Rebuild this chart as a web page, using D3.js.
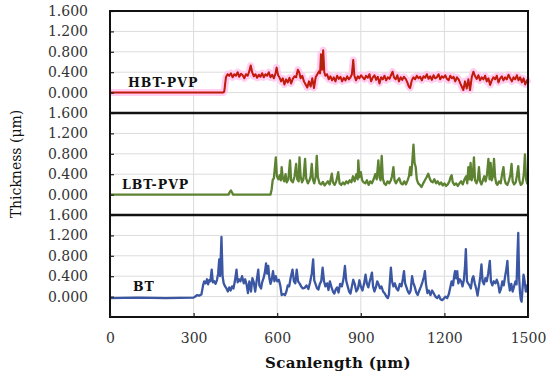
<!doctype html>
<html>
<head>
<meta charset="utf-8">
<script src="https://d3js.org/d3.v7.min.js"></script>
<style>
  body { margin: 0; background: #fff; }
  svg text { font-family: "DejaVu Serif", serif; }
</style>
</head>
<body>
<div id="chart"></div>
<script>
// ---- data ----
var yTicks = [0, 0.4, 0.8, 1.2, 1.6];
var xTicks = [0, 300, 600, 900, 1200, 1500];
var panelNames = ["HBT-PVP", "LBT-PVP", "BT"];

// HBT-PVP profile
var hbtX = [0, 405, 410, 416, 422, 428, 434, 440, 446, 452, 458, 464, 470, 476, 482, 488, 494, 500, 505, 510, 516, 522, 528, 534, 540, 546, 552, 558, 564, 570, 576, 582, 588, 594, 598, 603, 608, 614, 620, 626, 632, 638, 644, 650, 656, 662, 668, 674, 679, 684, 690, 696, 702, 708, 714, 720, 726, 732, 738, 744, 750, 754, 757, 761, 765, 769, 773, 779, 785, 791, 797, 803, 809, 815, 821, 827, 833, 839, 845, 851, 857, 863, 868, 873, 877, 883, 889, 895, 901, 907, 913, 919, 925, 931, 937, 943, 949, 955, 961, 967, 973, 979, 985, 991, 997, 1003, 1009, 1014, 1019, 1025, 1031, 1037, 1043, 1049, 1055, 1061, 1067, 1072, 1077, 1083, 1089, 1095, 1101, 1107, 1113, 1119, 1125, 1131, 1137, 1143, 1149, 1155, 1161, 1167, 1173, 1179, 1185, 1191, 1197, 1203, 1209, 1215, 1221, 1227, 1233, 1239, 1245, 1251, 1257, 1262, 1268, 1274, 1280, 1286, 1292, 1298, 1304, 1310, 1316, 1322, 1328, 1334, 1340, 1346, 1352, 1358, 1364, 1370, 1376, 1382, 1388, 1394, 1400, 1406, 1412, 1418, 1424, 1430, 1436, 1442, 1448, 1454, 1460, 1466, 1472, 1478, 1484, 1490, 1496, 1500];
var hbtY = [0, 0, 0.02, 0.3, 0.36, 0.33, 0.38, 0.30, 0.36, 0.33, 0.40, 0.31, 0.37, 0.34, 0.28, 0.36, 0.33, 0.42, 0.53, 0.40, 0.32, 0.36, 0.29, 0.35, 0.31, 0.38, 0.30, 0.36, 0.33, 0.40, 0.30, 0.35, 0.28, 0.38, 0.49, 0.34, 0.30, 0.22, 0.28, 0.16, 0.26, 0.20, 0.29, 0.18, 0.27, 0.32, 0.30, 0.45, 0.40, 0.28, 0.33, 0.22, 0.16, 0.10, 0.22, 0.12, 0.28, 0.09, 0.30, 0.36, 0.42, 0.38, 0.75, 0.45, 0.83, 0.40, 0.33, 0.36, 0.26, 0.32, 0.24, 0.30, 0.22, 0.33, 0.27, 0.31, 0.22, 0.29, 0.24, 0.32, 0.26, 0.30, 0.36, 0.64, 0.33, 0.24, 0.32, 0.28, 0.34, 0.30, 0.26, 0.33, 0.29, 0.36, 0.22, 0.30, 0.34, 0.25, 0.31, 0.18, 0.30, 0.26, 0.33, 0.24, 0.30, 0.27, 0.35, 0.41, 0.30, 0.26, 0.34, 0.22, 0.30, 0.25, 0.31, 0.27, 0.20, 0.12, 0.09, 0.24, 0.30, 0.26, 0.33, 0.28, 0.31, 0.24, 0.32, 0.29, 0.36, 0.27, 0.32, 0.25, 0.34, 0.28, 0.30, 0.36, 0.26, 0.32, 0.29, 0.34, 0.27, 0.24, 0.33, 0.28, 0.31, 0.22, 0.30, 0.26, 0.18, 0.12, 0.05, 0.22, 0.08, 0.26, 0.05, 0.30, 0.41, 0.32, 0.27, 0.34, 0.24, 0.30, 0.26, 0.33, 0.22, 0.28, 0.15, 0.24, 0.30, 0.26, 0.33, 0.20, 0.28, 0.32, 0.24, 0.30, 0.26, 0.35, 0.28, 0.22, 0.30, 0.26, 0.34, 0.24, 0.30, 0.20, 0.28, 0.16, 0.24, 0.18];

// LBT-PVP profile
var lbtX = [0, 425, 430, 434, 438, 442, 576, 580, 584, 588, 592, 595, 599, 604, 609, 613, 616, 620, 625, 630, 634, 640, 646, 650, 656, 662, 668, 672, 677, 680, 684, 689, 694, 700, 704, 710, 716, 720, 724, 728, 733, 738, 742, 746, 752, 758, 764, 770, 776, 782, 788, 796, 800, 806, 812, 819, 824, 830, 836, 842, 848, 854, 860, 866, 872, 878, 884, 889, 891, 895, 900, 905, 910, 916, 922, 928, 934, 940, 946, 952, 957, 963, 967, 971, 975, 979, 984, 990, 996, 1002, 1008, 1012, 1017, 1021, 1026, 1032, 1038, 1044, 1050, 1056, 1062, 1068, 1073, 1077, 1081, 1085, 1089, 1093, 1097, 1101, 1106, 1112, 1118, 1124, 1130, 1136, 1142, 1147, 1152, 1158, 1164, 1170, 1176, 1182, 1188, 1194, 1200, 1206, 1212, 1218, 1222, 1226, 1230, 1236, 1242, 1248, 1254, 1260, 1266, 1272, 1278, 1282, 1286, 1290, 1294, 1298, 1302, 1306, 1310, 1315, 1320, 1324, 1328, 1333, 1338, 1343, 1348, 1353, 1358, 1362, 1366, 1370, 1374, 1378, 1382, 1386, 1390, 1396, 1402, 1407, 1412, 1416, 1420, 1426, 1432, 1437, 1441, 1445, 1450, 1456, 1461, 1465, 1469, 1474, 1480, 1485, 1489, 1493, 1497, 1500];
var lbtY = [0, 0, 0.05, 0.08, 0.04, 0, 0, 0.1, 0.29, 0.32, 0.55, 0.73, 0.36, 0.30, 0.38, 0.28, 0.54, 0.33, 0.26, 0.40, 0.24, 0.30, 0.67, 0.28, 0.24, 0.35, 0.60, 0.30, 0.26, 0.73, 0.36, 0.24, 0.30, 0.70, 0.32, 0.22, 0.28, 0.36, 0.60, 0.30, 0.22, 0.35, 0.76, 0.34, 0.22, 0.20, 0.25, 0.18, 0.22, 0.26, 0.20, 0.41, 0.24, 0.19, 0.26, 0.44, 0.22, 0.19, 0.24, 0.20, 0.26, 0.22, 0.28, 0.24, 0.36, 0.26, 0.40, 0.30, 0.67, 0.34, 0.44, 0.28, 0.24, 0.22, 0.28, 0.19, 0.26, 0.22, 0.30, 0.40, 0.30, 0.67, 0.34, 0.28, 0.76, 0.32, 0.22, 0.19, 0.26, 0.22, 0.28, 0.36, 0.54, 0.28, 0.22, 0.28, 0.32, 0.22, 0.20, 0.26, 0.20, 0.28, 0.36, 0.54, 0.38, 0.66, 0.98, 0.62, 0.54, 0.30, 0.22, 0.19, 0.15, 0.22, 0.28, 0.34, 0.41, 0.32, 0.26, 0.24, 0.30, 0.22, 0.26, 0.20, 0.24, 0.18, 0.22, 0.17, 0.20, 0.26, 0.34, 0.38, 0.24, 0.19, 0.22, 0.17, 0.22, 0.26, 0.20, 0.30, 0.36, 0.22, 0.54, 0.30, 0.62, 0.28, 0.36, 0.73, 0.28, 0.22, 0.30, 0.54, 0.26, 0.20, 0.28, 0.36, 0.26, 0.40, 0.70, 0.30, 0.62, 0.28, 0.36, 0.70, 0.34, 0.22, 0.19, 0.26, 0.22, 0.40, 0.54, 0.30, 0.22, 0.19, 0.28, 0.40, 0.60, 0.26, 0.20, 0.24, 0.40, 0.56, 0.28, 0.19, 0.22, 0.40, 0.79, 0.30, 0.22, 0.41];

// BT profile
var btX = [0, 100, 200, 300, 306, 312, 320, 328, 334, 338, 343, 348, 352, 356, 360, 365, 369, 374, 379, 384, 388, 392, 395, 400, 404, 408, 413, 418, 423, 428, 433, 438, 443, 448, 454, 458, 463, 468, 474, 480, 485, 490, 495, 500, 506, 511, 516, 521, 526, 532, 536, 542, 546, 551, 556, 560, 564, 568, 572, 576, 580, 585, 590, 595, 600, 606, 611, 616, 622, 628, 633, 638, 643, 648, 655, 660, 665, 670, 675, 680, 686, 692, 698, 705, 712, 718, 724, 729, 733, 738, 743, 748, 753, 758, 763, 768, 773, 779, 784, 789, 794, 800, 805, 810, 815, 820, 826, 832, 838, 843, 848, 853, 858, 863, 868, 873, 878, 884, 890, 895, 900, 906, 912, 917, 922, 927, 932, 936, 940, 944, 949, 954, 959, 964, 969, 974, 980, 986, 992, 997, 1001, 1005, 1008, 1012, 1017, 1022, 1028, 1034, 1040, 1046, 1051, 1055, 1059, 1064, 1069, 1074, 1079, 1084, 1088, 1093, 1099, 1104, 1110, 1116, 1122, 1127, 1130, 1134, 1139, 1144, 1150, 1156, 1162, 1168, 1174, 1180, 1186, 1192, 1198, 1204, 1210, 1216, 1221, 1226, 1231, 1235, 1238, 1242, 1246, 1250, 1255, 1260, 1265, 1270, 1274, 1277, 1281, 1285, 1290, 1295, 1300, 1304, 1309, 1314, 1319, 1324, 1329, 1333, 1337, 1342, 1347, 1352, 1357, 1363, 1367, 1372, 1377, 1383, 1388, 1393, 1398, 1403, 1408, 1413, 1418, 1423, 1426, 1430, 1435, 1440, 1445, 1450, 1455, 1459, 1462, 1465, 1468, 1471, 1474, 1477, 1481, 1484, 1488, 1492, 1496, 1500];
var btY = [-0.03, -0.02, -0.03, -0.02, 0.0, 0.03, 0.02, 0.04, 0.22, 0.30, 0.26, 0.34, 0.24, 0.32, 0.30, 0.53, 0.28, 0.30, 0.25, 0.33, 0.45, 0.73, 0.40, 1.17, 0.40, 0.26, 0.20, 0.16, 0.10, 0.18, 0.12, 0.20, 0.16, 0.30, 0.53, 0.28, 0.34, 0.30, 0.40, 0.26, 0.34, 0.24, 0.07, 0.30, 0.10, 0.36, 0.28, 0.10, 0.30, 0.53, 0.22, 0.16, 0.28, 0.36, 0.48, 0.65, 0.45, 0.60, 0.36, 0.25, 0.32, 0.50, 0.30, 0.40, 0.30, 0.33, 0.22, 0.03, 0.05, 0.03, 0.10, 0.22, 0.20, 0.36, 0.53, 0.30, 0.26, 0.53, 0.30, 0.26, 0.20, 0.16, 0.17, 0.22, 0.15, 0.28, 0.45, 0.73, 0.32, 0.24, 0.16, 0.14, 0.25, 0.30, 0.57, 0.30, 0.20, 0.26, 0.13, 0.30, 0.20, 0.10, 0.06, 0.14, 0.18, 0.08, 0.25, 0.20, 0.35, 0.60, 0.30, 0.20, 0.10, 0.06, 0.20, 0.33, 0.25, 0.10, 0.16, 0.32, 0.20, 0.12, 0.26, 0.43, 0.25, 0.18, 0.30, 0.38, 0.47, 0.20, 0.10, 0.18, 0.30, 0.24, 0.16, 0.20, 0.10, 0.06, 0.00, -0.03, 0.04, 0.35, 0.57, 0.30, 0.20, 0.26, 0.16, 0.12, 0.25, 0.20, 0.35, 0.50, 0.26, 0.18, 0.10, 0.06, 0.12, 0.40, 0.28, 0.20, 0.08, 0.03, 0.12, 0.20, 0.30, 0.40, 0.50, 0.24, 0.07, 0.12, 0.03, 0.12, 0.06, 0.00, -0.03, 0.02, -0.05, -0.07, -0.04, 0.00, -0.03, 0.05, 0.18, 0.30, 0.22, 0.40, 0.50, 0.36, 0.50, 0.26, 0.34, 0.30, 0.20, 0.33, 0.60, 0.93, 0.30, 0.26, 0.22, 0.16, 0.35, 0.40, 0.26, 0.16, 0.02, 0.20, 0.40, 0.63, 0.30, 0.24, 0.36, 0.30, 0.45, 0.70, 0.30, 0.22, 0.30, 0.26, 0.33, 0.25, 0.08, 0.15, 0.30, 0.22, 0.40, 0.56, 0.70, 0.30, 0.12, 0.25, 0.10, 0.20, 0.30, 0.24, 0.80, 1.25, 0.40, 0.10, -0.05, -0.10, 0.20, 0.43, 0.30, 0.10, 0.22, 0.08];

// ---- layout ----
var W = 550, H = 379;
var left = 110, right = 528, top0 = 11, panelH = 102;

var svg = d3.select("#chart").append("svg")
    .attr("width", W).attr("height", H);

var x = d3.scaleLinear().domain([0, 1500]).range([left, right]);

var series = [
  { name: panelNames[0], xs: hbtX, ys: hbtY, color: "#e00a0a", labelX: 128, w: 2 },
  { name: panelNames[1], xs: lbtX, ys: lbtY, color: "#5c8232", labelX: 122, w: 2.3 },
  { name: panelNames[2], xs: btX,  ys: btY,  color: "#3b56a2", labelX: 133, w: 2.3 }
];

series.forEach(function(s, i) {
  var pTop = top0 + i * panelH;
  var y = d3.scaleLinear().domain([-0.4, 1.6]).range([pTop + panelH, pTop]);
  var g = svg.append("g");

  // gridlines
  g.selectAll(".hg").data(yTicks).enter().append("line")
    .attr("x1", left).attr("x2", right)
    .attr("y1", function(d) { return y(d); }).attr("y2", function(d) { return y(d); })
    .attr("stroke", "#dcdcdc").attr("stroke-width", 1);
  g.selectAll(".vg").data(xTicks.slice(1, -1)).enter().append("line")
    .attr("x1", function(d) { return x(d); }).attr("x2", function(d) { return x(d); })
    .attr("y1", pTop).attr("y2", pTop + panelH)
    .attr("stroke", "#dcdcdc").attr("stroke-width", 1);

  var pts = s.xs.map(function(v, k) { return [v, s.ys[k]]; });
  var line = d3.line().x(function(d) { return x(d[0]); }).y(function(d) { return y(d[1]); });

  if (i === 0) {
    // pink glow behind the red trace
    g.append("path").datum(pts).attr("d", line)
      .attr("fill", "none").attr("stroke", "#ffc6ee").attr("stroke-width", 7)
      .attr("stroke-linejoin", "round").attr("opacity", 0.85);
  }
  g.append("path").datum(pts).attr("d", line)
    .attr("fill", "none").attr("stroke", s.color).attr("stroke-width", s.w)
    .attr("stroke-linejoin", "round");
  if (i === 0) {
    g.append("path").datum(pts).attr("d", line)
      .attr("fill", "none").attr("stroke", "#8a3a10").attr("stroke-width", 0.9)
      .attr("opacity", 0.75);
  }

  // y axis: inner ticks, labels on the left
  var yAxis = d3.axisLeft(y).tickValues(yTicks).tickFormat(d3.format(".3f"))
    .tickSizeInner(-4).tickSizeOuter(0).tickPadding(22);
  var ay = g.append("g").attr("transform", "translate(" + left + ",0)").call(yAxis);
  ay.select(".domain").remove();
  ay.selectAll("line").attr("stroke", "#222").attr("stroke-width", 1.2);
  ay.selectAll("text").style("font-family", "DejaVu Serif, serif")
    .style("font-size", "14px").attr("fill", "#333");

  // panel frame
  g.append("rect").attr("x", left).attr("y", pTop)
    .attr("width", right - left).attr("height", panelH)
    .attr("fill", "none").attr("stroke", "#111").attr("stroke-width", 2);

  // series label
  g.append("text").attr("x", s.labelX).attr("y", y(0) - 6)
    .text(s.name)
    .style("font-family", "DejaVu Serif, serif").style("font-weight", "bold")
    .style("font-size", "12.5px").style("letter-spacing", "1px").attr("fill", "#111");
});

// thicker separators between panels
[1, 2].forEach(function(k) {
  svg.append("line").attr("x1", left).attr("x2", right)
    .attr("y1", top0 + k * panelH).attr("y2", top0 + k * panelH)
    .attr("stroke", "#111").attr("stroke-width", 2.5);
});

// x axis on bottom panel
var bottom = top0 + 3 * panelH;
var xAxis = d3.axisBottom(x).tickValues(xTicks).tickFormat(d3.format("d"))
  .tickSizeInner(-4).tickSizeOuter(0).tickPadding(16);
var ax = svg.append("g").attr("transform", "translate(0," + bottom + ")").call(xAxis);
ax.select(".domain").remove();
ax.selectAll("line").attr("stroke", "#222").attr("stroke-width", 1.2);
ax.selectAll("text").style("font-family", "DejaVu Serif, serif")
  .style("font-size", "14px").attr("fill", "#333");

// axis titles
svg.append("text").attr("x", 338).attr("y", 368).attr("text-anchor", "middle")
  .text("Scanlength (μm)")
  .style("font-family", "DejaVu Serif, serif").style("font-weight", "bold")
  .style("font-size", "15px").style("letter-spacing", "0.3px").attr("fill", "#111");
svg.append("text").attr("transform", "translate(21,164) rotate(-90)")
  .attr("text-anchor", "middle")
  .text("Thickness (μm)")
  .style("font-family", "DejaVu Serif, serif")
  .style("font-size", "14px").attr("fill", "#111");
</script>
</body>
</html>
